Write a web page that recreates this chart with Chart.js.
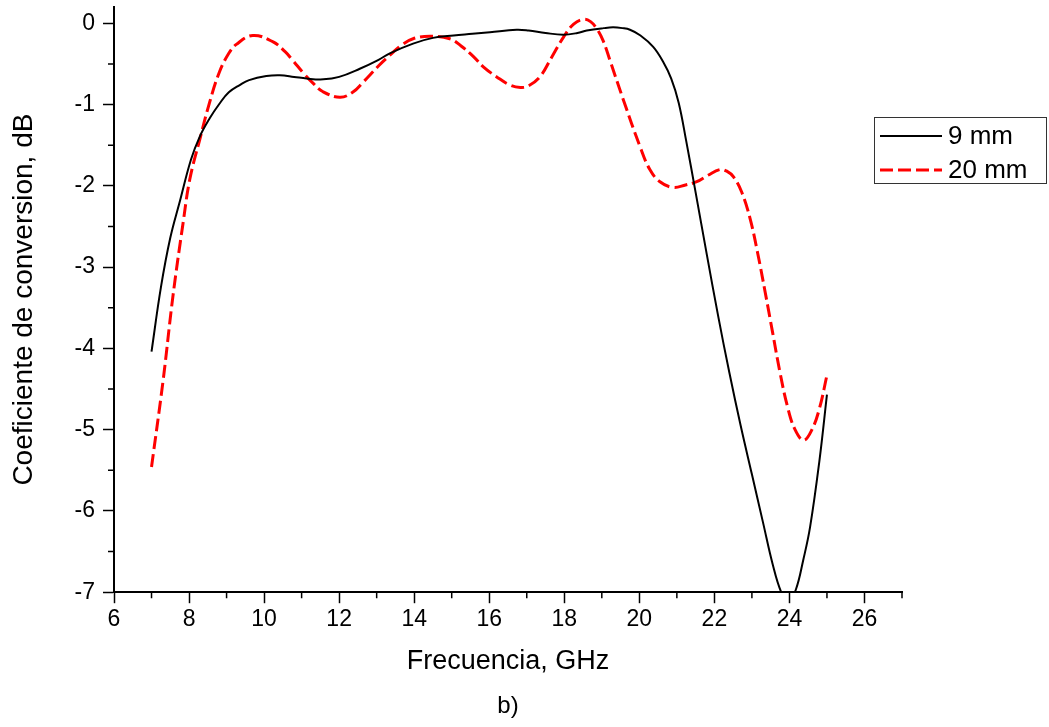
<!DOCTYPE html>
<html><head><meta charset="utf-8">
<script src="https://cdn.jsdelivr.net/npm/chart.js@4.4.0/dist/chart.umd.min.js"></script>
<style>html,body{margin:0;padding:0;background:#fff;overflow:hidden}#wrap{width:1049px;height:727px;position:relative}</style>
</head><body><div id="wrap"><canvas id="c" width="1049" height="727"></canvas></div>
<script>
// ---- data ----
const seriesLabels = ['9 mm', '20 mm'];
const x9 = [7.0, 7.25, 7.5, 7.75, 8.05, 8.28, 8.55, 8.81, 9.06, 9.35, 9.6, 10.06, 10.42, 10.8, 11.13, 11.58, 12.0, 12.55, 13.05, 13.35, 13.97, 14.5, 15.05, 15.55, 16.02, 16.73, 17.05, 17.5, 17.97, 18.35, 18.6, 19.05, 19.3, 19.55, 19.75, 20.03, 20.37, 20.63, 20.85, 21.05, 21.25, 21.5, 21.8, 22.1, 22.4, 22.7, 23.0, 23.3, 23.55, 23.78, 23.97, 24.17, 24.37, 24.55, 24.8, 25.0];
const y9 = [-4.04, -3.25, -2.64, -2.2, -1.68, -1.40, -1.17, -0.99, -0.85, -0.76, -0.70, -0.65, -0.64, -0.66, -0.68, -0.69, -0.66, -0.56, -0.45, -0.37, -0.25, -0.18, -0.15, -0.13, -0.11, -0.08, -0.09, -0.12, -0.14, -0.12, -0.09, -0.06, -0.05, -0.06, -0.08, -0.15, -0.29, -0.47, -0.68, -0.98, -1.45, -2.08, -2.85, -3.6, -4.3, -4.95, -5.55, -6.15, -6.65, -7.0, -7.12, -6.97, -6.6, -6.2, -5.38, -4.57];
const x20 = [7.0, 7.31, 7.57, 7.84, 8.02, 8.28, 8.55, 8.81, 9.06, 9.26, 9.7, 10.24, 10.56, 10.77, 11.06, 11.31, 11.56, 12.02, 12.36, 12.65, 13.06, 13.36, 13.66, 13.97, 14.42, 14.95, 15.25, 15.58, 15.85, 16.2, 16.55, 16.83, 17.05, 17.35, 17.65, 17.98, 18.25, 18.52, 18.7, 18.87, 19.04, 19.22, 19.58, 20.02, 20.28, 20.55, 20.9, 21.23, 21.53, 21.83, 22.15, 22.33, 22.51, 22.73, 22.95, 23.15, 23.35, 23.55, 23.75, 23.95, 24.15, 24.38, 24.6, 24.8, 25.0];
const y20 = [-5.46, -4.39, -3.36, -2.46, -1.92, -1.44, -0.97, -0.60, -0.37, -0.26, -0.15, -0.23, -0.35, -0.46, -0.62, -0.74, -0.84, -0.91, -0.85, -0.72, -0.52, -0.39, -0.27, -0.19, -0.16, -0.19, -0.28, -0.41, -0.54, -0.66, -0.76, -0.79, -0.77, -0.66, -0.43, -0.17, -0.01, 0.05, 0.02, -0.07, -0.22, -0.46, -0.95, -1.52, -1.80, -1.95, -2.02, -1.99, -1.95, -1.87, -1.80, -1.82, -1.89, -2.08, -2.4, -2.82, -3.3, -3.8, -4.3, -4.72, -5.0, -5.13, -5.0, -4.74, -4.33];
const xTicks = [6, 8, 10, 12, 14, 16, 18, 20, 22, 24, 26];
const yTicks = [-7, -6, -5, -4, -3, -2, -1, 0];
const xMinor = [7, 9, 11, 13, 15, 17, 19, 21, 23, 25, 27];
const yMinor = [-6.5, -5.5, -4.5, -3.5, -2.5, -1.5, -0.5];
const xTitle = 'Frecuencia, GHz';
const yTitle = 'Coeficiente de conversion, dB';
const caption = 'b)';

const FONT = "Arial, 'Liberation Sans', sans-serif";
const RED_DASH = [13, 5];

const minorTicks = {
  id: 'minorTicks',
  afterDraw(chart) {
    const ctx = chart.ctx, xs = chart.scales.x, ys = chart.scales.y;
    ctx.save();
    ctx.strokeStyle = '#000';
    ctx.lineWidth = 1.5;
    ctx.beginPath();
    xMinor.forEach(v => { const p = xs.getPixelForValue(v); ctx.moveTo(p, ys.bottom); ctx.lineTo(p, ys.bottom + 6); });
    yMinor.forEach(v => { const p = ys.getPixelForValue(v); ctx.moveTo(xs.left, p); ctx.lineTo(xs.left - 6, p); });
    ctx.stroke();
    ctx.restore();
  }
};

const boxLegend = {
  id: 'boxLegend',
  afterDraw(chart) {
    const ctx = chart.ctx;
    ctx.save();
    ctx.strokeStyle = '#333';
    ctx.lineWidth = 1;
    ctx.strokeRect(874.5, 117.5, 172, 66);
    const rows = [136, 170];
    chart.data.datasets.forEach((ds, i) => {
      const y = rows[i];
      ctx.strokeStyle = ds.borderColor;
      ctx.lineWidth = ds.borderWidth;
      ctx.setLineDash(ds.borderDash || []);
      ctx.beginPath();
      ctx.moveTo(880, y); ctx.lineTo(942, y);
      ctx.stroke();
      ctx.setLineDash([]);
      ctx.fillStyle = '#000';
      ctx.font = '26px ' + FONT;
      ctx.textBaseline = 'middle';
      ctx.textAlign = 'left';
      ctx.fillText(ds.label, 948, y + 1);
    });
    ctx.restore();
  }
};

new Chart(document.getElementById('c'), {
  type: 'line',
  data: {
    datasets: [
      { label: seriesLabels[0], data: x9.map((x, i) => ({ x, y: y9[i] })), borderColor: '#000', borderWidth: 2, pointRadius: 0, tension: 0.4, clip: 0 },
      { label: seriesLabels[1], data: x20.map((x, i) => ({ x, y: y20[i] })), borderColor: '#ff0000', borderWidth: 3, borderDash: RED_DASH, pointRadius: 0, tension: 0.4, clip: 0 }
    ]
  },
  options: {
    responsive: false,
    animation: false,
    devicePixelRatio: 1,
    layout: { padding: { top: 7, right: 147, left: 0, bottom: 0 } },
    plugins: {
      legend: { display: false },
      tooltip: { enabled: false },
      title: { display: true, text: caption, position: 'bottom', fullSize: false, color: '#000', font: { family: FONT, size: 24, weight: 'normal' }, padding: { top: 0, bottom: 6 } }
    },
    scales: {
      x: {
        type: 'linear', min: 6, max: 27,
        afterBuildTicks: s => { s.ticks = xTicks.map(v => ({ value: v })); },
        afterFit: s => { s.height = 100; s.paddingLeft = 0; s.paddingRight = 0; },
        ticks: { color: '#000', font: { family: FONT, size: 23 }, padding: 3, maxRotation: 0, autoSkip: false },
        grid: { drawOnChartArea: false, drawTicks: true, tickLength: 11, tickColor: '#000', tickWidth: 1.5 },
        border: { color: '#000', width: 2 },
        title: { display: true, text: xTitle, color: '#000', font: { family: FONT, size: 27 }, padding: { top: 0, bottom: 14 } }
      },
      y: {
        type: 'linear', min: -7, max: 0.2,
        afterBuildTicks: s => { s.ticks = yTicks.map(v => ({ value: v })); },
        afterFit: s => { s.width = 114; s.paddingTop = 0; s.paddingBottom = 0; },
        ticks: { color: '#000', font: { family: FONT, size: 23 }, padding: 8, autoSkip: false },
        grid: { drawOnChartArea: false, drawTicks: true, tickLength: 11, tickColor: '#000', tickWidth: 1.5 },
        border: { color: '#000', width: 2 },
        title: { display: true, text: yTitle, color: '#000', font: { family: FONT, size: 28 }, padding: { top: 7, bottom: 0 } }
      }
    }
  },
  plugins: [minorTicks, boxLegend]
});
</script></body></html>
